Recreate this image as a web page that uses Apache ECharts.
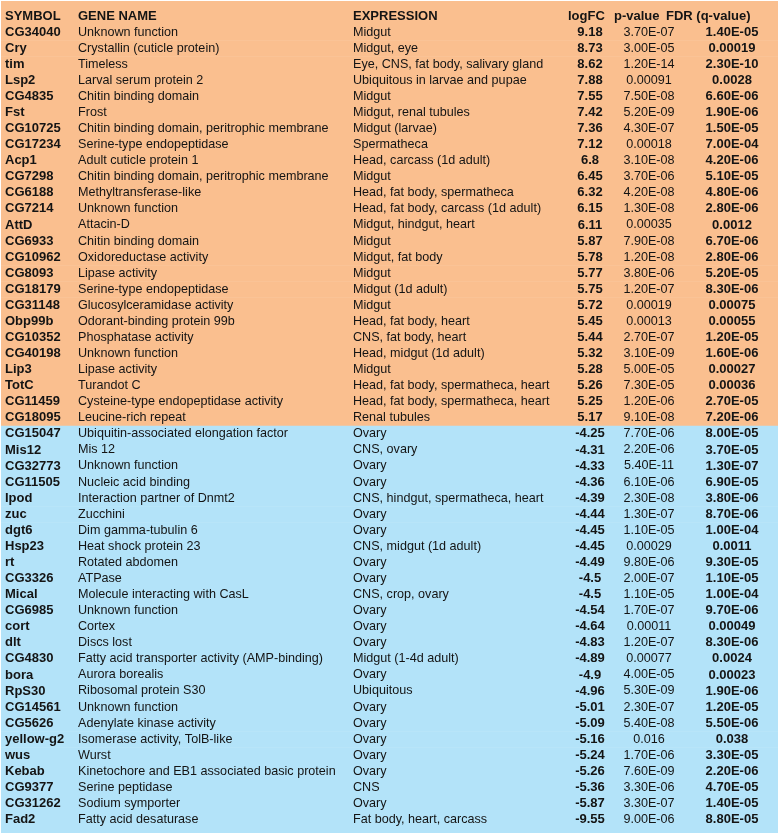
<!DOCTYPE html>
<html>
<head>
<meta charset="utf-8">
<script src="https://cdn.jsdelivr.net/npm/echarts@6/dist/echarts.min.js"></script>
<style>
html,body{margin:0;padding:0;background:#fff;}
#chart{width:778px;height:833px;}
</style>
</head>
<body>
<div id="chart"></div>
<script>
var headers = ['SYMBOL', 'GENE NAME', 'EXPRESSION', 'logFC', 'p-value', 'FDR (q-value)'];

var symbols = ['CG34040','Cry','tim','Lsp2','CG4835','Fst','CG10725','CG17234','Acp1','CG7298','CG6188','CG7214','AttD','CG6933','CG10962','CG8093','CG18179','CG31148','Obp99b','CG10352','CG40198','Lip3','TotC','CG11459','CG18095',
'CG15047','Mis12','CG32773','CG11505','Ipod','zuc','dgt6','Hsp23','rt','CG3326','Mical','CG6985','cort','dlt','CG4830','bora','RpS30','CG14561','CG5626','yellow-g2','wus','Kebab','CG9377','CG31262','Fad2'];

var geneNames = ['Unknown function','Crystallin (cuticle protein)','Timeless','Larval serum protein 2','Chitin binding domain','Frost','Chitin binding domain, peritrophic membrane','Serine-type endopeptidase','Adult cuticle protein 1','Chitin binding domain, peritrophic membrane','Methyltransferase-like','Unknown function','Attacin-D','Chitin binding domain','Oxidoreductase activity','Lipase activity','Serine-type endopeptidase','Glucosylceramidase activity','Odorant-binding protein 99b','Phosphatase activity','Unknown function','Lipase activity','Turandot C','Cysteine-type endopeptidase activity','Leucine-rich repeat',
'Ubiquitin-associated elongation factor','Mis 12','Unknown function','Nucleic acid binding','Interaction partner of Dnmt2','Zucchini','Dim gamma-tubulin 6','Heat shock protein 23','Rotated abdomen','ATPase','Molecule interacting with CasL','Unknown function','Cortex','Discs lost','Fatty acid transporter activity (AMP-binding)','Aurora borealis','Ribosomal protein S30','Unknown function','Adenylate kinase activity','Isomerase activity, TolB-like','Wurst','Kinetochore and EB1 associated basic protein','Serine peptidase','Sodium symporter','Fatty acid desaturase'];

var expression = ['Midgut','Midgut, eye','Eye, CNS, fat body, salivary gland','Ubiquitous in larvae and pupae','Midgut','Midgut, renal tubules','Midgut (larvae)','Spermatheca','Head, carcass (1d adult)','Midgut','Head, fat body, spermatheca','Head, fat body, carcass (1d adult)','Midgut, hindgut, heart','Midgut','Midgut, fat body','Midgut','Midgut (1d adult)','Midgut','Head, fat body, heart','CNS, fat body, heart','Head, midgut (1d adult)','Midgut','Head, fat body, spermatheca, heart','Head, fat body, spermatheca, heart','Renal tubules',
'Ovary','CNS, ovary','Ovary','Ovary','CNS, hindgut, spermatheca, heart','Ovary','Ovary','CNS, midgut (1d adult)','Ovary','Ovary','CNS, crop, ovary','Ovary','Ovary','Ovary','Midgut (1-4d adult)','Ovary','Ubiquitous','Ovary','Ovary','Ovary','Ovary','Ovary','CNS','Ovary','Fat body, heart, carcass'];

var logFC = [9.18,8.73,8.62,7.88,7.55,7.42,7.36,7.12,6.8,6.45,6.32,6.15,6.11,5.87,5.78,5.77,5.75,5.72,5.45,5.44,5.32,5.28,5.26,5.25,5.17,
-4.25,-4.31,-4.33,-4.36,-4.39,-4.44,-4.45,-4.45,-4.49,-4.5,-4.5,-4.54,-4.64,-4.83,-4.89,-4.9,-4.96,-5.01,-5.09,-5.16,-5.24,-5.26,-5.36,-5.87,-9.55];

var pValues = ['3.70E-07','3.00E-05','1.20E-14','0.00091','7.50E-08','5.20E-09','4.30E-07','0.00018','3.10E-08','3.70E-06','4.20E-08','1.30E-08','0.00035','7.90E-08','1.20E-08','3.80E-06','1.20E-07','0.00019','0.00013','2.70E-07','3.10E-09','5.00E-05','7.30E-05','1.20E-06','9.10E-08',
'7.70E-06','2.20E-06','5.40E-11','6.10E-06','2.30E-08','1.30E-07','1.10E-05','0.00029','9.80E-06','2.00E-07','1.10E-05','1.70E-07','0.00011','1.20E-07','0.00077','4.00E-05','5.30E-09','2.30E-07','5.40E-08','0.016','1.70E-06','7.60E-09','3.30E-06','3.30E-07','9.00E-06'];

var fdr = ['1.40E-05','0.00019','2.30E-10','0.0028','6.60E-06','1.90E-06','1.50E-05','7.00E-04','4.20E-06','5.10E-05','4.80E-06','2.80E-06','0.0012','6.70E-06','2.80E-06','5.20E-05','8.30E-06','0.00075','0.00055','1.20E-05','1.60E-06','0.00027','0.00036','2.70E-05','7.20E-06',
'8.00E-05','3.70E-05','1.30E-07','6.90E-05','3.80E-06','8.70E-06','1.00E-04','0.0011','9.30E-05','1.10E-05','1.00E-04','9.70E-06','0.00049','8.30E-06','0.0024','0.00023','1.90E-06','1.20E-05','5.50E-06','0.038','3.30E-05','2.20E-06','4.70E-05','1.40E-05','8.80E-05'];

// layout (pixel-unit x axis)
var W = 778, H = 833;
var UP_COLOR = '#FABF8F', DOWN_COLOR = '#B3E3F9';
var TEXT = '#141414';
var FAMILY = '"Liberation Sans", Arial, Helvetica, sans-serif';
var BOLD = 'bold 13px ' + FAMILY;
var REG = '12.6px ' + FAMILY;

var nRows = symbols.length + 1;
var rowIdx = [];
for (var k = 0; k < nRows; k++) rowIdx.push(k);

var chart = echarts.init(document.getElementById('chart'), null, {renderer: 'canvas'});

function txt(x, y, s, font, align) {
  return {type: 'text', silent: true, style: {x: x, y: y, text: s, font: font, fill: TEXT, align: align, verticalAlign: 'middle'}};
}

chart.setOption({
  animation: false,
  backgroundColor: '#ffffff',
  grid: {left: 0, right: 0, top: 8, bottom: 5.4, containLabel: false},
  xAxis: {type: 'value', min: 0, max: W, show: false},
  yAxis: {type: 'category', data: rowIdx, inverse: true, show: false},
  series: [{
    type: 'custom',
    data: rowIdx.map(function (i) { return [0, i]; }),
    encode: {x: 0, y: 1},
    clip: false,
    renderItem: function (params, api) {
      var i = api.value(1);
      var c = api.coord([0, i]);
      var h = api.size([0, 1])[1];
      var yc = c[1];
      var top = yc - h / 2, bot = yc + h / 2;
      if (i === 0) top = 1;
      if (i === nRows - 1) bot = H;
      var color;
      if (i === 0) color = UP_COLOR;
      else color = logFC[i - 1] > 0 ? UP_COLOR : DOWN_COLOR;
      function X(v) { return api.coord([v, i])[0]; }
      var children = [{type: 'rect', silent: true, shape: {x: 1, y: top, width: W - 1, height: bot - top + 0.6}, style: {fill: color}}];
      if (i === 0) {
        children.push(txt(X(5), yc, headers[0], BOLD, 'left'));
        children.push(txt(X(78), yc, headers[1], BOLD, 'left'));
        children.push(txt(X(353), yc, headers[2], BOLD, 'left'));
        children.push(txt(X(568), yc, headers[3], BOLD, 'left'));
        children.push(txt(X(614), yc, headers[4], BOLD, 'left'));
        children.push(txt(X(666), yc, headers[5], BOLD, 'left'));
      } else {
        var r = i - 1;
        children.push(txt(X(5), yc, symbols[r], BOLD, 'left'));
        children.push(txt(X(78), yc, geneNames[r], REG, 'left'));
        children.push(txt(X(353), yc, expression[r], REG, 'left'));
        children.push(txt(X(590), yc, String(logFC[r]), BOLD, 'center'));
        children.push(txt(X(649), yc, pValues[r], REG, 'center'));
        children.push(txt(X(732), yc, fdr[r], BOLD, 'center'));
      }
      return {type: 'group', children: children};
    }
  }]
});
</script>
</body>
</html>
